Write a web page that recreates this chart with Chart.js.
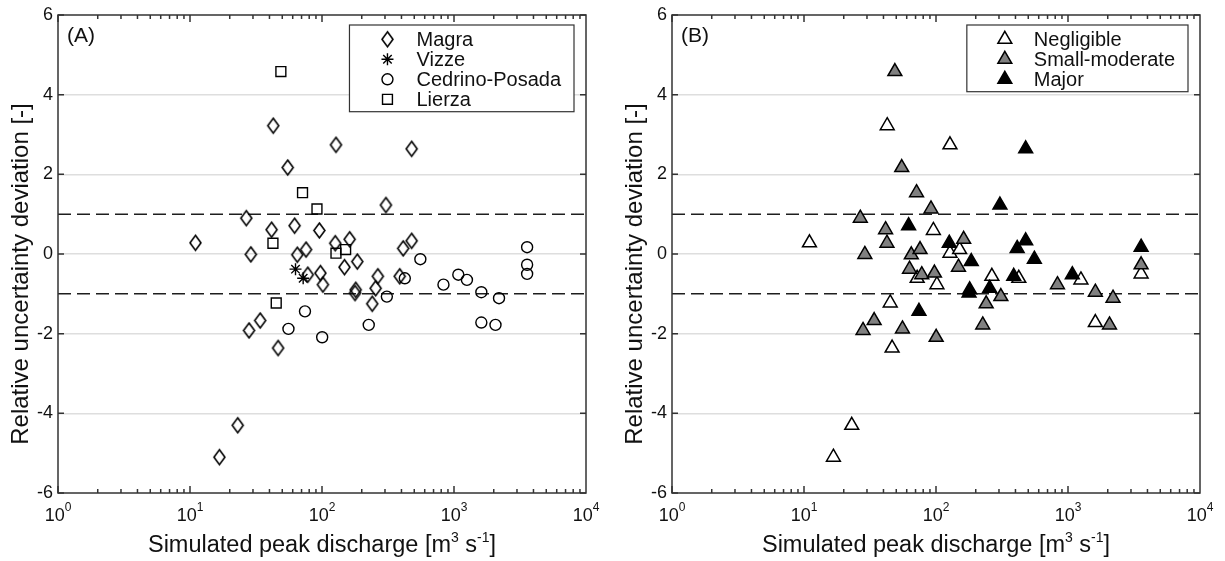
<!DOCTYPE html>
<html>
<head>
<meta charset="utf-8">
<script src="https://cdn.jsdelivr.net/npm/chart.js@4"></script>
<style>
    html, body { margin: 0; padding: 0; background: #fff; }
    #wrap { position: relative; width: 1225px; height: 561px; background: #fff; }
    .panel { position: absolute; top: 0; height: 561px; }
</style>
</head>
<body>
<div id="wrap">
    <div class="panel" style="left:0;width:612px"><canvas id="chart-a" width="612" height="561"></canvas></div>
    <div class="panel" style="left:612px;width:613px"><canvas id="chart-b" width="613" height="561"></canvas></div>
</div>
<script>
// simulated peak discharge (m3/s) and relative uncertainty deviation per catchment
// cls = damage class used in panel B: N negligible, S small-moderate, M major
const magraX = [11, 26.7, 28.9, 28, 34, 46.5, 23, 16.7, 42.7, 55, 127.6, 478, 305, 41.5, 62, 95.5, 126, 162, 478, 412,
    65, 75.7, 185, 148, 78, 97.3, 101.6, 180, 178, 265, 255, 240, 388];
const magraY = [0.28, 0.90, -0.01, -1.92, -1.67, -2.36, -4.30, -5.10, 3.22, 2.17, 2.74, 2.64, 1.23, 0.61, 0.71, 0.59, 0.27, 0.37, 0.33, 0.14,
    -0.02, 0.11, -0.19, -0.33, -0.52, -0.48, -0.77, -0.90, -0.98, -0.56, -0.86, -1.25, -0.56];
const magraCls = ['N', 'S', 'S', 'S', 'S', 'N', 'N', 'N', 'N', 'S', 'N', 'M', 'M', 'S', 'M', 'N', 'M', 'S', 'M', 'M',
    'S', 'S', 'M', 'S', 'S', 'S', 'N', 'M', 'M', 'N', 'M', 'S', 'M'];

const vizzeX = [63, 72];
const vizzeY = [-0.38, -0.61];
const vizzeCls = ['S', 'N'];

const cedrinoX = [556, 424, 310, 226, 832, 1078, 1253, 1611, 2193, 1611, 2062, 3580, 3580, 3580, 74.3, 55.7, 100.3];
const cedrinoY = [-0.13, -0.61, -1.07, -1.78, -0.77, -0.52, -0.65, -0.96, -1.11, -1.72, -1.78, 0.17, -0.27, -0.50, -1.44, -1.88, -2.09];
const cedrinoCls = ['M', 'N', 'S', 'S', 'S', 'M', 'N', 'S', 'S', 'N', 'S', 'M', 'S', 'N', 'M', 'S', 'S'];

const lierzaX = [48.8, 71.2, 91.6, 42.5, 127.6, 151, 45];
const lierzaY = [4.58, 1.54, 1.13, 0.27, 0.02, 0.11, -1.23];
const lierzaCls = ['S', 'S', 'S', 'S', 'N', 'N', 'N'];

const classCodes = ['N', 'S', 'M'];
const classLabels = ['Negligible', 'Small-moderate', 'Major'];

const bandLimits = [1, -1];
const yTicks = [-6, -4, -2, 0, 2, 4, 6];
const xExponents = [0, 1, 2, 3, 4];

const FONT = '"Liberation Sans", Arial, Helvetica, sans-serif';
const INK = '#111111';
const AXIS = '#333333';

function toPoints(xs, ys) {
    return xs.map((x, i) => ({ x: x, y: ys[i] }));
}

// diamond marker, taller than wide like the matlab one
function diamondMarker(hw, hh, lw) {
    const c = document.createElement('canvas');
    c.width = Math.ceil(2 * hw + 2 * lw + 2);
    c.height = Math.ceil(2 * hh + 2 * lw + 2);
    const g = c.getContext('2d');
    const cx = c.width / 2, cy = c.height / 2;
    g.beginPath();
    g.moveTo(cx, cy - hh);
    g.lineTo(cx + hw, cy);
    g.lineTo(cx, cy + hh);
    g.lineTo(cx - hw, cy);
    g.closePath();
    g.lineWidth = lw;
    g.strokeStyle = '#000';
    g.stroke();
    return c;
}

function drawRich(ctx, parts, x, y) {
    let w = 0;
    parts.forEach(p => {
        ctx.font = p.size + 'px ' + FONT;
        w += ctx.measureText(p.t).width;
    });
    let cx = x - w / 2;
    ctx.textAlign = 'left';
    ctx.textBaseline = 'alphabetic';
    parts.forEach(p => {
        ctx.font = p.size + 'px ' + FONT;
        ctx.fillText(p.t, cx, y - (p.rise || 0));
        cx += ctx.measureText(p.t).width;
    });
}

// box, inward ticks, labels, titles and the boxed legend
const framePlugin = {
    id: 'frame',
    afterDraw(chart, args, opts) {
        const ctx = chart.ctx;
        const a = chart.chartArea;
        const xs = chart.scales.x, ys = chart.scales.y;
        ctx.save();

        ctx.strokeStyle = AXIS;
        ctx.lineWidth = 1.5;
        ctx.strokeRect(a.left, a.top, a.right - a.left, a.bottom - a.top);

        ctx.beginPath();
        for (let e = 0; e < 4; e++) {
            for (let m = 1; m <= 9; m++) {
                const px = xs.getPixelForValue(m * Math.pow(10, e));
                const len = m === 1 ? 7 : 4;
                ctx.moveTo(px, a.bottom);
                ctx.lineTo(px, a.bottom - len);
                ctx.moveTo(px, a.top);
                ctx.lineTo(px, a.top + len);
            }
        }
        yTicks.forEach(v => {
            const py = ys.getPixelForValue(v);
            ctx.moveTo(a.left, py);
            ctx.lineTo(a.left + 6, py);
            ctx.moveTo(a.right, py);
            ctx.lineTo(a.right - 6, py);
        });
        ctx.stroke();

        ctx.fillStyle = INK;
        ctx.font = '18px ' + FONT;
        ctx.textAlign = 'right';
        ctx.textBaseline = 'middle';
        yTicks.forEach(v => ctx.fillText(String(v), a.left - 5, ys.getPixelForValue(v)));

        xExponents.forEach(e => {
            drawRich(ctx, [{ t: '10', size: 18 }, { t: String(e), size: 12, rise: 10 }],
                xs.getPixelForValue(Math.pow(10, e)), a.bottom + 28);
        });

        drawRich(ctx, [
            { t: 'Simulated peak discharge [m', size: 23.5 },
            { t: '3', size: 14, rise: 10 },
            { t: ' s', size: 23.5 },
            { t: '-1', size: 14, rise: 10 },
            { t: ']', size: 23.5 }
        ], (a.left + a.right) / 2, a.bottom + 59);

        ctx.save();
        ctx.translate(a.left - 30, (a.top + a.bottom) / 2 + 20);
        ctx.rotate(-Math.PI / 2);
        ctx.font = '24px ' + FONT;
        ctx.textAlign = 'center';
        ctx.textBaseline = 'alphabetic';
        ctx.fillText('Relative uncertainty deviation [-]', 0, 0);
        ctx.restore();

        ctx.font = '21px ' + FONT;
        ctx.textAlign = 'left';
        ctx.textBaseline = 'alphabetic';
        ctx.fillText(opts.tag, a.left + 9, a.top + 27);

        // legend
        const items = chart.data.datasets.filter(d => d.label);
        ctx.font = '20px ' + FONT;
        const tw = Math.max(...items.map(d => ctx.measureText(d.label).width));
        const right = a.right - 12, top = a.top + 10;
        const left = right - (67 + tw + 13);
        const bottom = top + 14.3 + (items.length - 1) * 20 + 12.4;
        ctx.fillStyle = '#fff';
        ctx.fillRect(left, top, right - left, bottom - top);
        ctx.strokeStyle = AXIS;
        ctx.lineWidth = 1.2;
        ctx.strokeRect(left, top, right - left, bottom - top);
        items.forEach((d, i) => {
            const cy = top + 14.3 + i * 20;
            ctx.fillStyle = d.backgroundColor;
            ctx.strokeStyle = d.borderColor;
            ctx.lineWidth = d.borderWidth;
            Chart.helpers.drawPoint(ctx, {
                pointStyle: d.pointStyle, radius: d.pointRadius, rotation: 0, borderWidth: d.borderWidth
            }, left + 38, cy);
            ctx.fillStyle = INK;
            ctx.font = '20px ' + FONT;
            ctx.textAlign = 'left';
            ctx.textBaseline = 'middle';
            ctx.fillText(d.label, left + 67, cy + 1);
        });

        ctx.restore();
    }
};

function bandDatasets() {
    return bandLimits.map(v => ({
        type: 'line',
        data: [{ x: 1, y: v }, { x: 10000, y: v }],
        showLine: true,
        borderColor: '#1e1e1e',
        borderWidth: 1.5,
        borderDash: [13, 6],
        pointRadius: 0,
        order: 10,
    }));
}

function makeOptions(yWidth, rightPad, tag) {
    return {
        responsive: false,
        animation: false,
        events: [],
        layout: { padding: { left: 0, right: rightPad, top: 15, bottom: 0 } },
        plugins: {
            legend: { display: false },
            tooltip: { enabled: false },
            frame: { tag: tag }
        },
        scales: {
            x: {
                type: 'logarithmic',
                min: 1,
                max: 10000,
                ticks: { display: false },
                grid: { display: false },
                border: { display: false },
                afterFit: s => { s.height = 68; }
            },
            y: {
                min: -6,
                max: 6,
                ticks: { display: false, stepSize: 2 },
                grid: {
                    drawTicks: false,
                    lineWidth: 1.5,
                    color: c => (c.tick && Math.abs(c.tick.value) === 6) ? 'rgba(0,0,0,0)' : '#dedede'
                },
                border: { display: false },
                afterFit: s => { s.width = yWidth; }
            }
        }
    };
}

const diamond = diamondMarker(5.5, 7.5, 1.6);
const hollow = 'rgba(0,0,0,0)';

const seriesA = [
    { label: 'Magra', data: toPoints(magraX, magraY), pointStyle: diamond, pointRadius: 8, backgroundColor: hollow, borderColor: '#000', borderWidth: 1.5 },
    { label: 'Vizze', data: toPoints(vizzeX, vizzeY), pointStyle: 'star', pointRadius: 6, backgroundColor: hollow, borderColor: '#000', borderWidth: 1.4 },
    { label: 'Cedrino-Posada', data: toPoints(cedrinoX, cedrinoY), pointStyle: 'circle', pointRadius: 5.5, backgroundColor: hollow, borderColor: '#000', borderWidth: 1.4 },
    { label: 'Lierza', data: toPoints(lierzaX, lierzaY), pointStyle: 'rect', pointRadius: 7, backgroundColor: hollow, borderColor: '#000', borderWidth: 1.4 },
];

// panel B regroups the same events by damage class
const allSeries = [
    [magraX, magraY, magraCls],
    [vizzeX, vizzeY, vizzeCls],
    [cedrinoX, cedrinoY, cedrinoCls],
    [lierzaX, lierzaY, lierzaCls],
];

function classPoints(code) {
    const pts = [];
    allSeries.forEach(([xs, ys, cls]) => {
        cls.forEach((c, i) => {
            if (c === code) pts.push({ x: xs[i], y: ys[i] });
        });
    });
    return pts;
}

const classFill = ['#ffffff', '#808080', '#000000'];

const seriesB = classCodes.map((code, k) => ({
    label: classLabels[k],
    data: classPoints(code),
    pointStyle: 'triangle',
    pointRadius: 8,
    backgroundColor: classFill[k],
    borderColor: '#000',
    borderWidth: 1.5,
    order: 3 - k,
}));

function initCharts() {
    new Chart(document.getElementById('chart-a'), {
        type: 'scatter',
        data: { datasets: seriesA.concat(bandDatasets()) },
        options: makeOptions(58, 26, '(A)'),
        plugins: [framePlugin]
    });

    new Chart(document.getElementById('chart-b'), {
        type: 'scatter',
        data: { datasets: seriesB.concat(bandDatasets()) },
        options: makeOptions(60, 25, '(B)'),
        plugins: [framePlugin]
    });
}

initCharts();
</script>
</body>
</html>
